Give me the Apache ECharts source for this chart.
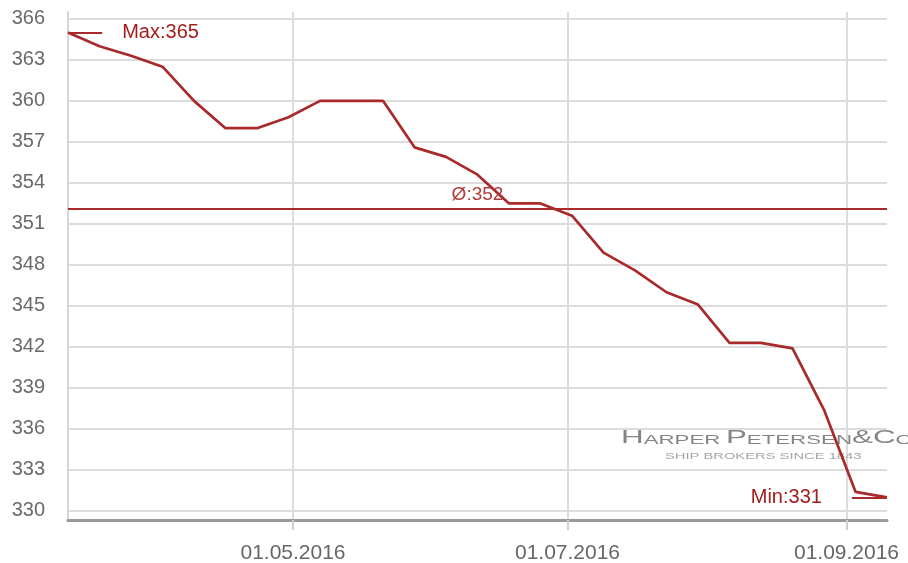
<!DOCTYPE html>
<html>
<head>
<meta charset="utf-8">
<script src="https://cdn.jsdelivr.net/npm/echarts@6/dist/echarts.min.js"></script>
<style>html,body{margin:0;padding:0;background:#fff}#c{width:908px;height:563px}</style>
</head>
<body>
<div id="c"></div>
<script>
// ---- data ----
const dates = ['2016-03-12','2016-03-19','2016-03-26','2016-04-02','2016-04-09','2016-04-16','2016-04-23','2016-04-30',
  '2016-05-07','2016-05-14','2016-05-21','2016-05-28','2016-06-04','2016-06-11','2016-06-18','2016-06-25',
  '2016-07-02','2016-07-09','2016-07-16','2016-07-23','2016-07-30','2016-08-06','2016-08-13','2016-08-20',
  '2016-08-27','2016-09-03','2016-09-10'];
const values = [365, 364, 363.3, 362.5, 360, 358, 358, 358.8,
  360, 360, 360, 356.6, 355.9, 354.6, 352.5, 352.5,
  351.6, 348.9, 347.6, 346, 345.1, 342.3, 342.3, 341.9,
  337.4, 331.4, 331];
const xTickDates = ['2016-05-01','2016-07-01','2016-09-01'];
const xTickLabels = ['01.05.2016','01.07.2016','01.09.2016'];
const yTickValues = [330,333,336,339,342,345,348,351,354,357,360,363,366];
const watermarkLine1 = '{a|H}{b|ARPER} {a|P}{b|ETERSEN}{a|&}{a|C}{b|O.}';
const watermarkLine2 = 'SHIP BROKERS SINCE 1843';

// ---- helpers ----
function toTime(s){ const p = s.split('-').map(Number); return Date.UTC(p[0], p[1]-1, p[2]); }
const DAY = 86400000;
const seriesData = dates.map((d,i)=>[toTime(d), values[i]]);
const xTicks = xTickDates.map(toTime);
let iMax = 0, iMin = 0;
values.forEach((v,i)=>{ if(v>values[iMax]) iMax=i; if(v<values[iMin]) iMin=i; });
const tMax = seriesData[iMax][0], vMax = values[iMax];
const tMin = seriesData[iMin][0], vMin = values[iMin];
const RED = '#a82a2a';
const LABEL_RED = '#a51c1c';
const FONT = 'Liberation Sans, Arial, sans-serif';

const chart = echarts.init(document.getElementById('c'), null, {renderer:'canvas'});
chart.setOption({
  animation: false,
  backgroundColor: '#fff',
  grid: { left: 68, right: 21, top: 12, bottom: 43, outerBoundsMode: 'none' },
  xAxis: {
    type: 'value',
    min: toTime(dates[0]),
    max: toTime(dates[dates.length-1]),
    axisLine: { show: true, lineStyle: { color: '#9a9a9a', width: 3 } },
    axisTick: { show: true, customValues: xTicks, length: 10, lineStyle: { color: '#cfcfcf', width: 2 } },
    axisLabel: {
      customValues: xTicks,
      formatter: v => { const i = xTicks.indexOf(v); return i >= 0 ? xTickLabels[i] : ''; },
      color: '#666', fontSize: 21, fontFamily: FONT, margin: 23
    },
    splitLine: { show: true, lineStyle: { color: '#dcdcdc', width: 2 } }
  },
  yAxis: {
    type: 'value',
    min: 329.34,
    max: 366.5,
    axisLine: { show: true, lineStyle: { color: '#d6d6d6', width: 2 } },
    axisTick: { show: false, customValues: yTickValues },
    axisLabel: { customValues: yTickValues, color: '#6a6a6a', fontSize: 20, fontFamily: FONT, margin: 23 },
    splitLine: { show: true, lineStyle: { color: '#dcdcdc', width: 2 } }
  },
  graphic: [
    { type: 'text', x: 621, y: 447, scaleX: 1.65, z: 1, silent: true,
      style: { text: watermarkLine1, verticalAlign: 'bottom', align: 'left',
        rich: {
          a: { fontSize: 19, fontFamily: FONT, fill: '#858585', verticalAlign: 'bottom', lineHeight: 19 },
          b: { fontSize: 13.5, fontFamily: FONT, fill: '#858585', verticalAlign: 'bottom', lineHeight: 19 }
        } } },
    { type: 'text', x: 665, y: 456, scaleX: 1.55, z: 1, silent: true,
      style: { text: watermarkLine2, fontSize: 9.5, fontFamily: FONT, fill: '#a5a5a5', verticalAlign: 'middle', align: 'left' } }
  ],
  series: [{
    type: 'line',
    data: seriesData,
    showSymbol: false,
    symbol: 'none',
    z: 3,
    lineStyle: { color: RED, width: 2.7 },
    markLine: {
      silent: true,
      symbol: ['none','none'],
      lineStyle: { color: RED, width: 2, type: 'solid' },
      data: [
        { type: 'average',
          label: { show: true, position: 'insideMiddleTop', distance: 4,
            formatter: p => 'Ø:' + Math.round(p.value),
            color: '#b33a3a', fontSize: 19, fontFamily: FONT } },
        [ { coord: [tMax, vMax] },
          { coord: [tMax + 7.6*DAY, vMax],
            label: { show: true, position: 'end', distance: 20, formatter: 'Max:' + vMax,
              color: LABEL_RED, fontSize: 20, fontFamily: FONT } } ],
        [ { coord: [tMin - 7.8*DAY, vMin],
            label: { show: true, position: 'start', distance: 30, formatter: 'Min:' + vMin,
              color: LABEL_RED, fontSize: 20, fontFamily: FONT } },
          { coord: [tMin, vMin] } ]
      ]
    }
  }]
});
</script>
</body>
</html>
